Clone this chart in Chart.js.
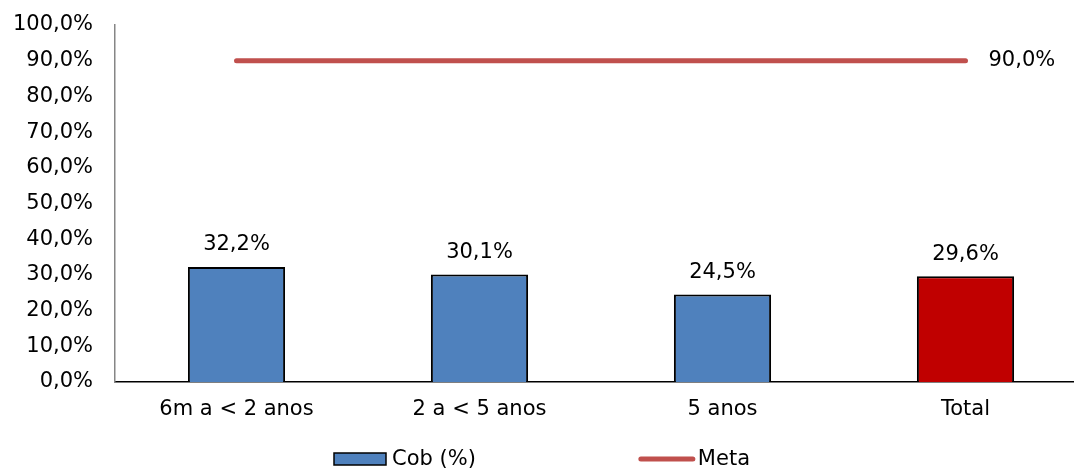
<!DOCTYPE html>
<html>
<head>
<meta charset="utf-8">
<script src="https://cdn.jsdelivr.net/npm/chart.js@4.4.1/dist/chart.umd.min.js"></script>
<style>
  html, body { margin: 0; padding: 0; background: #fff; overflow: hidden; }
  #wrap { width: 1088px; height: 468px; }
</style>
</head>
<body>
<div id="wrap"><canvas id="c" width="1088" height="468"></canvas></div>
<script>
// Coverage by age group, with the 90% target
const categories = ['6m a < 2 anos', '2 a < 5 anos', '5 anos', 'Total'];
const coverage = [32.2, 30.1, 24.5, 29.6];
const target = [90, 90, 90, 90];
const yTicks = [0, 10, 20, 30, 40, 50, 60, 70, 80, 90, 100];
const seriesNames = ['Cob (%)', 'Meta'];

const FONT = 'Verdana, "DejaVu Sans", sans-serif';
const FS = 21;
const BLUE = '#4F81BD';
const RED_BAR = '#C00000';
const META = '#C0504D';

const fmt = v => v.toFixed(1).replace('.', ',') + '%';

// Value labels above bars and to the right of the target line's end
const valueLabels = {
  id: 'valueLabels',
  afterDatasetsDraw(chart) {
    const ctx = chart.ctx;
    ctx.save();
    ctx.font = FS + 'px ' + FONT;
    ctx.fillStyle = '#000';
    ctx.textBaseline = 'middle';
    const bars = chart.getDatasetMeta(0).data;
    ctx.textAlign = 'center';
    bars.forEach((b, i) => {
      ctx.fillText(fmt(coverage[i]), b.x, b.y - 22);
    });
    const pts = chart.getDatasetMeta(1).data;
    const last = pts[pts.length - 1];
    ctx.textAlign = 'left';
    ctx.fillText(fmt(target[target.length - 1]), last.x + 23, last.y);
    ctx.restore();
  }
};

// Legend row along the bottom edge
const bottomLegend = {
  id: 'bottomLegend',
  afterDraw(chart) {
    const ctx = chart.ctx;
    ctx.save();
    ctx.font = FS + 'px ' + FONT;
    const boxW = 52, boxH = 12, lineW = 56, gap = 163, textGap = 6;
    const w1 = ctx.measureText(seriesNames[0]).width;
    const w2 = ctx.measureText(seriesNames[1]).width;
    const total = boxW + textGap + w1 + gap + lineW + 3 + w2;
    let x = chart.width / 2 - total / 2 - 2;
    const base = 465;
    // bar swatch
    ctx.fillStyle = BLUE;
    ctx.fillRect(x, 453, boxW, boxH);
    ctx.strokeStyle = '#000';
    ctx.lineWidth = 1.5;
    ctx.strokeRect(x, 453, boxW, boxH);
    ctx.fillStyle = '#000';
    ctx.textBaseline = 'alphabetic';
    ctx.textAlign = 'left';
    ctx.fillText(seriesNames[0], x + boxW + textGap, base);
    x += boxW + textGap + w1 + gap;
    // line swatch
    ctx.strokeStyle = META;
    ctx.lineWidth = 5;
    ctx.lineCap = 'round';
    ctx.beginPath();
    ctx.moveTo(x + 2, 459);
    ctx.lineTo(x + lineW - 2, 459);
    ctx.stroke();
    ctx.fillStyle = '#000';
    ctx.fillText(seriesNames[1], x + lineW + 3, base);
    ctx.restore();
  }
};

new Chart(document.getElementById('c'), {
  data: {
    labels: categories,
    datasets: [
      {
        type: 'bar',
        label: seriesNames[0],
        data: coverage,
        backgroundColor: [BLUE, BLUE, BLUE, RED_BAR],
        borderColor: '#000',
        borderWidth: 2,
        barPercentage: 0.4,
        categoryPercentage: 1.0,
        order: 2
      },
      {
        type: 'line',
        label: seriesNames[1],
        data: target,
        borderColor: META,
        borderWidth: 5,
        borderCapStyle: 'round',
        pointRadius: 0,
        fill: false,
        order: 1
      }
    ]
  },
  options: {
    responsive: false,
    animation: false,
    devicePixelRatio: 1,
    layout: { padding: { top: 25, right: 1, bottom: 0, left: 0 } },
    plugins: {
      legend: { display: false },
      tooltip: { enabled: false }
    },
    scales: {
      x: {
        grid: { display: false, drawTicks: false },
        border: { display: true, color: '#000', width: 1.5 },
        ticks: { color: '#000', font: { family: FONT, size: FS }, padding: 15, maxRotation: 0 },
        afterFit(s) { s.height = 86; s.paddingLeft = 0; s.paddingRight = 0; }
      },
      y: {
        min: 0,
        max: 100,
        grid: { display: false, drawTicks: false },
        border: { display: true, color: '#868686', width: 1.5 },
        afterBuildTicks(s) { s.ticks = yTicks.map(v => ({ value: v })); },
        ticks: {
          color: '#000',
          font: { family: FONT, size: FS },
          padding: 22,
          callback: v => fmt(v)
        },
        afterFit(s) { s.width = 115; s.paddingTop = 0; s.paddingBottom = 0; }
      }
    }
  },
  plugins: [valueLabels, bottomLegend]
});
</script>
</body>
</html>
